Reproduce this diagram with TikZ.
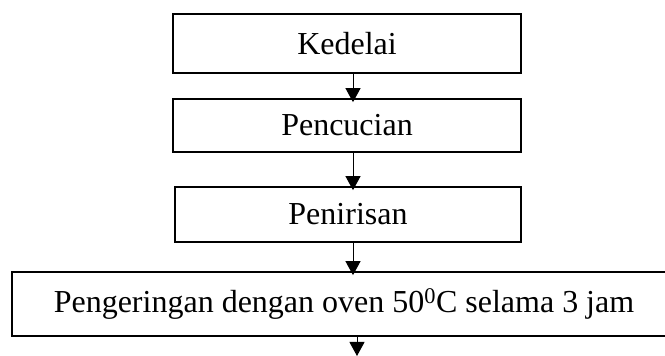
\documentclass[tikz,border=0pt]{standalone}
\usepackage{fontspec}
\setmainfont{Liberation Serif}
\usetikzlibrary{arrows.meta,positioning}

\begin{document}
\begin{tikzpicture}[
  x=1pt, y=1pt,
  stepbox/.style={draw, line width=1.7pt, inner sep=0pt, minimum width=348pt, font=\fontsize{32}{38}\selectfont},
  arr/.style={line width=1pt, -{Triangle[width=15pt,length=14pt]}, shorten >=-4pt},
]

\def\arrx{6pt}

\useasboundingbox (0,0) rectangle (665,356);

% --- steps ---
\node[stepbox, minimum height=59pt] (kedelai) at (347,312.5) {Kedelai};
\node[stepbox, minimum height=53pt] (pencucian) at (347,230.5) {Pencucian};
\node[stepbox, minimum height=55pt, minimum width=346pt] (penirisan) at (348,141.5) {Penirisan};
\node[stepbox, minimum height=64pt, minimum width=664pt] (pengeringan) at (344,52) {Pengeringan dengan oven 50\textsuperscript{0}C selama 3 jam};
\coordinate (lanjut) at (357,0);

% --- arrows ---
\draw[arr] ([xshift=\arrx]kedelai.south) -- ([xshift=\arrx]pencucian.north);
\draw[arr] ([xshift=\arrx]pencucian.south) -- ([xshift=\arrx-1pt]penirisan.north);
\draw[arr] ([xshift=\arrx-1pt]penirisan.south) -- ([xshift=\arrx-1pt]penirisan.south |- pengeringan.north);
\draw[arr, shorten >=0pt] (pengeringan.south -| lanjut) -- (lanjut);

\end{tikzpicture}
\end{document}
